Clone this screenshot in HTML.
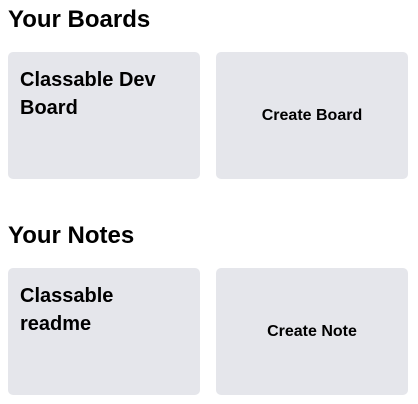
<!DOCTYPE html>
<html><head><style>
body{margin:0;background:#fff;font-family:"Liberation Sans",Arial,sans-serif;color:#000;width:418px;height:404px;position:relative;overflow:hidden}
h2{position:absolute;left:8px;margin:0;font-size:24px;font-weight:bold;line-height:26px}
.card{position:absolute;width:192px;height:127px;background:#e5e6eb;border-radius:5px}
.t{position:absolute;left:12px;top:14px;font-size:20px;font-weight:bold;line-height:28px;width:150px}
.c{position:absolute;left:0;right:0;text-align:center;font-size:16px;font-weight:bold;top:55px}
</style></head><body>
<h2 style="top:7px">Your Boards</h2>
<div class="card" style="left:8px;top:52px"><div class="t">Classable Dev Board</div></div>
<div class="card" style="left:216px;top:52px"><div class="c">Create Board</div></div>
<h2 style="top:223px">Your Notes</h2>
<div class="card" style="left:8px;top:268px"><div class="t">Classable readme</div></div>
<div class="card" style="left:216px;top:268px"><div class="c">Create Note</div></div>
</body></html>
